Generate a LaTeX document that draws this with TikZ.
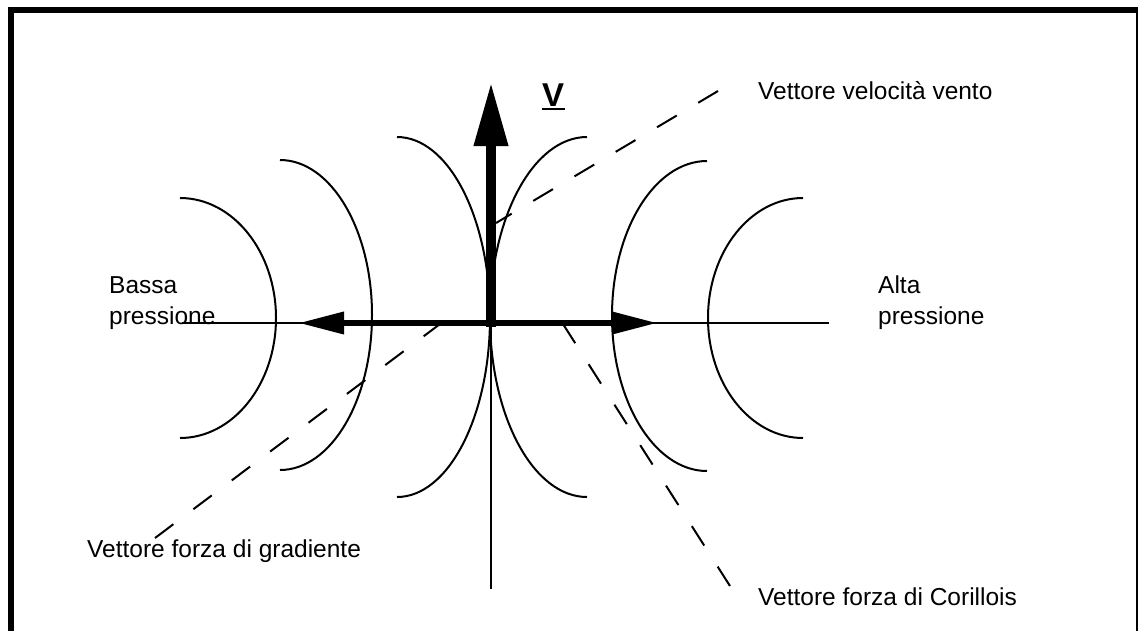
\documentclass[tikz,border=0pt]{standalone}
\usepackage{fontspec}
\setmainfont{Liberation Sans}
\usetikzlibrary{arrows.meta}
\begin{document}
\begin{tikzpicture}[x=1pt,y=-1pt,
  curve/.style={line width=2pt},
  axisline/.style={line width=2pt},
  dashline/.style={line width=2pt, dash pattern=on 23pt off 25pt},
  lbl/.style={font=\fontsize{24.5}{31}\selectfont, anchor=base west, inner sep=0pt, align=left},
  hvec/.style={line width=6.7pt, -{Triangle[length=46pt,width=21pt]}},
  vvec/.style={line width=10pt, -{Triangle[length=64pt,width=32pt]}},
]
\useasboundingbox (0,0) rectangle (1138,630);
\clip (0,0) rectangle (1138,630);
\draw[line width=6pt] (10.5,10) rectangle (1139,700);

% isobar curves
\draw[curve] (180,198) arc[start angle=-90,end angle=90,x radius=96,y radius=120];
\draw[curve] (280,160) arc[start angle=-90,end angle=90,x radius=92,y radius=155];
\draw[curve] (397,137) arc[start angle=-90,end angle=90,x radius=93,y radius=180];
\draw[curve] (587,137) arc[start angle=-90,end angle=-270,x radius=97,y radius=180];
\draw[curve] (707,161) arc[start angle=-90,end angle=-270,x radius=95,y radius=155];
\draw[curve] (803,198) arc[start angle=-90,end angle=-270,x radius=95,y radius=120];

% axes
\coordinate (O) at (491,323);
\coordinate (Ol) at (182,323);
\coordinate (Or) at (829,323);
\coordinate (Ob) at (491,589);
\draw[axisline] (Ol) -- (Or);
\draw[axisline] (O) -- (Ob);

% vectors
\coordinate (Gtip) at (298,323);
\coordinate (Ctip) at (658,323);
\coordinate (Vbase) at (491,327);
\coordinate (Vtip) at (491,82);
\draw[hvec] (O) -- (Gtip);
\draw[hvec] (O) -- (Ctip);
\draw[vvec] (Vbase) -- (Vtip);

% dashed leaders
\coordinate (dv1) at (718,91);   \coordinate (dv2) at (496,223);
\coordinate (dg1) at (155,538);  \coordinate (dg2) at (440,324);
\coordinate (dc1) at (730,586);  \coordinate (dc2) at (563,324);
\draw[dashline] (dv1) -- (dv2);
\draw[dashline] (dg1) -- (dg2);
\draw[dashline] (dc1) -- (dc2);

% labels
\node[lbl] (vv) at (758,99.5) {Vettore velocità vento};
\node[lbl] (vc) at (758,605) {Vettore forza di Corillois};
\node[lbl] (vg) at (87,557) {Vettore forza di gradiente};
\node[lbl] (bp) at (109,324) {Bassa\\pressione};
\node[lbl] (ap) at (878,324) {Alta\\pressione};
\node[font=\bfseries\fontsize{33}{33}\selectfont, anchor=base west, inner sep=0pt] (V) at (542,106.7) {V};
\draw[line width=2.2pt] ([yshift=-2.6pt]V.base west) -- ([yshift=-2.6pt,xshift=1pt]V.base east);
\end{tikzpicture}
\end{document}
